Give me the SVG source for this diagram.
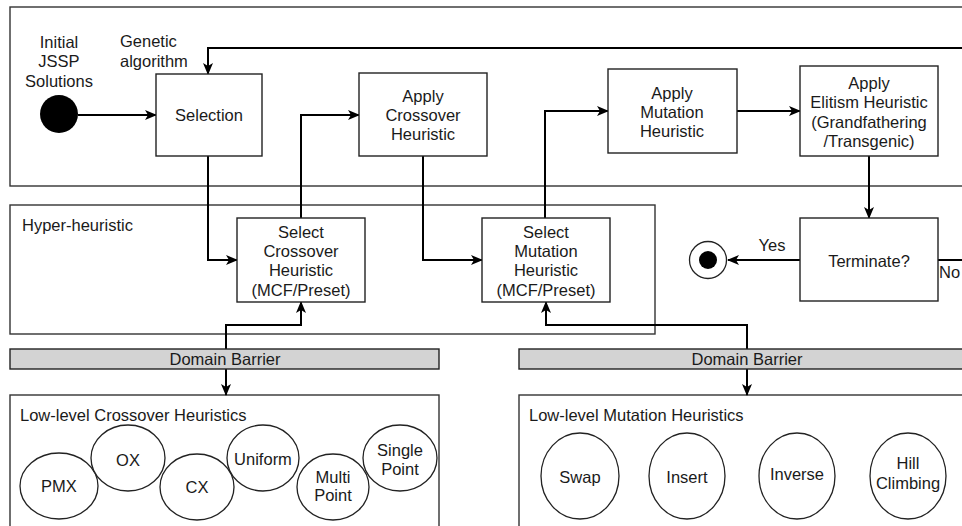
<svg xmlns="http://www.w3.org/2000/svg" width="962" height="526" viewBox="0 0 962 526">
  <style>
    text { font-family: "Liberation Sans", Arial, sans-serif; font-size: 16.5px; fill: #1a1a1a; }
    .c { text-anchor: middle; }
    .frame { fill: #fff; stroke: #333; stroke-width: 1.4; }
    .box { fill: #fff; stroke: #222; stroke-width: 1.4; }
    .barrier { fill: #d3d3d3; stroke: #222; stroke-width: 1.4; }
    .oval { fill: #fff; stroke: #222; stroke-width: 1.3; }
    .wire { fill: none; stroke: #000; stroke-width: 2; }
  </style>
  <defs>
    <marker id="arrow" viewBox="0 0 12 10" refX="11" refY="5" markerWidth="12" markerHeight="10" markerUnits="userSpaceOnUse" orient="auto">
      <path d="M0,0 L12,5 L0,10 L3,5 Z" fill="#000"/>
    </marker>
  </defs>
  <rect width="962" height="526" fill="#fff"/>

  <!-- containers -->
  <g id="ga-frame">
    <rect class="frame" x="10" y="7" width="970" height="179"/>
    <text x="120" y="47">Genetic</text>
    <text x="120" y="67">algorithm</text>
  </g>
  <g id="hh-frame">
    <rect class="frame" x="10" y="205" width="645" height="129"/>
    <text x="22" y="231">Hyper-heuristic</text>
  </g>
  <g id="ll-crossover">
    <rect class="frame" x="10" y="395" width="429" height="150"/>
    <text x="20" y="421">Low-level Crossover Heuristics</text>
  </g>
  <g id="ll-mutation">
    <rect class="frame" x="519" y="395" width="470" height="150"/>
    <text x="529" y="421">Low-level Mutation Heuristics</text>
  </g>

  <!-- connectors -->
  <g id="connectors">
    <path class="wire" d="M78,115 H156" marker-end="url(#arrow)"/>
    <path class="wire" d="M980,260 H938"/>
    <path class="wire" d="M980,48 H208 V74" marker-end="url(#arrow)"/>
    <path class="wire" d="M208,156 V260 H237" marker-end="url(#arrow)"/>
    <path class="wire" d="M301,218 V115 H359" marker-end="url(#arrow)"/>
    <path class="wire" d="M423,156 V260 H482" marker-end="url(#arrow)"/>
    <path class="wire" d="M545,218 V111 H608" marker-end="url(#arrow)"/>
    <path class="wire" d="M737,111 H800" marker-end="url(#arrow)"/>
    <path class="wire" d="M869,156 V218" marker-end="url(#arrow)"/>
    <path class="wire" d="M800,260 H728" marker-end="url(#arrow)"/>
    <path class="wire" d="M226,349 V325 H301 V302" marker-end="url(#arrow)"/>
    <path class="wire" d="M226,369 V395" marker-end="url(#arrow)"/>
    <path class="wire" d="M747,349 V325 H546 V302" marker-end="url(#arrow)"/>
    <path class="wire" d="M747,369 V395" marker-end="url(#arrow)"/>
    <text class="c" x="772" y="251">Yes</text>
    <text x="939" y="278">No</text>
  </g>

  <!-- genetic algorithm steps -->
  <g id="start">
    <circle cx="59" cy="114" r="19" fill="#000"/>
    <text class="c" x="59" y="48">Initial</text>
    <text class="c" x="59" y="67">JSSP</text>
    <text class="c" x="59" y="87">Solutions</text>
  </g>
  <g id="selection">
    <rect class="box" x="156" y="74" width="106" height="82"/>
    <text class="c" x="209" y="121">Selection</text>
  </g>
  <g id="apply-crossover">
    <rect class="box" x="359" y="73" width="128" height="83"/>
    <text class="c" x="423" y="102">Apply</text>
    <text class="c" x="423" y="121">Crossover</text>
    <text class="c" x="423" y="140">Heuristic</text>
  </g>
  <g id="apply-mutation">
    <rect class="box" x="608" y="69" width="129" height="84"/>
    <text class="c" x="672" y="99">Apply</text>
    <text class="c" x="672" y="118">Mutation</text>
    <text class="c" x="672" y="137">Heuristic</text>
  </g>
  <g id="apply-elitism">
    <rect class="box" x="800" y="66" width="138" height="90"/>
    <text class="c" x="869" y="89">Apply</text>
    <text class="c" x="869" y="108">Elitism Heuristic</text>
    <text class="c" x="869" y="128">(Grandfathering</text>
    <text class="c" x="869" y="147">/Transgenic)</text>
  </g>
  <g id="terminate">
    <rect class="box" x="800" y="218" width="138" height="83"/>
    <text class="c" x="869" y="267">Terminate?</text>
  </g>
  <g id="end">
    <circle cx="708" cy="260" r="18.5" fill="#fff" stroke="#222" stroke-width="1.3"/>
    <circle cx="708" cy="260" r="9" fill="#000"/>
  </g>

  <!-- hyper-heuristic selectors -->
  <g id="select-crossover">
    <rect class="box" x="237" y="218" width="128" height="84"/>
    <text class="c" x="301" y="238">Select</text>
    <text class="c" x="301" y="257">Crossover</text>
    <text class="c" x="301" y="276">Heuristic</text>
    <text class="c" x="301" y="296">(MCF/Preset)</text>
  </g>
  <g id="select-mutation">
    <rect class="box" x="482" y="218" width="128" height="84"/>
    <text class="c" x="546" y="238">Select</text>
    <text class="c" x="546" y="257">Mutation</text>
    <text class="c" x="546" y="276">Heuristic</text>
    <text class="c" x="546" y="296">(MCF/Preset)</text>
  </g>

  <!-- domain barriers -->
  <g id="barrier-left">
    <rect class="barrier" x="10" y="349" width="429" height="20"/>
    <text class="c" x="225" y="365">Domain Barrier</text>
  </g>
  <g id="barrier-right">
    <rect class="barrier" x="519" y="349" width="470" height="20"/>
    <text class="c" x="747" y="365">Domain Barrier</text>
  </g>

  <!-- low-level crossover operators -->
  <g id="pmx"><ellipse class="oval" cx="59" cy="486" rx="39" ry="33"/><text class="c" x="59" y="492">PMX</text></g>
  <g id="ox"><ellipse class="oval" cx="128" cy="458" rx="37" ry="33"/><text class="c" x="128" y="466">OX</text></g>
  <g id="cx"><ellipse class="oval" cx="197" cy="487" rx="37" ry="33"/><text class="c" x="197" y="493">CX</text></g>
  <g id="uniform"><ellipse class="oval" cx="263" cy="458" rx="36" ry="33"/><text class="c" x="263" y="465">Uniform</text></g>
  <g id="multi-point"><ellipse class="oval" cx="333" cy="487" rx="36" ry="33"/><text class="c" x="333" y="483">Multi</text><text class="c" x="333" y="501">Point</text></g>
  <g id="single-point"><ellipse class="oval" cx="400" cy="458" rx="37" ry="33"/><text class="c" x="400" y="456">Single</text><text class="c" x="400" y="475">Point</text></g>

  <!-- low-level mutation operators -->
  <g id="swap"><ellipse class="oval" cx="580" cy="476" rx="39" ry="43"/><text class="c" x="580" y="483">Swap</text></g>
  <g id="insert"><ellipse class="oval" cx="687" cy="476" rx="38" ry="43"/><text class="c" x="687" y="483">Insert</text></g>
  <g id="inverse"><ellipse class="oval" cx="797" cy="476" rx="38" ry="43"/><text class="c" x="797" y="480">Inverse</text></g>
  <g id="hill-climbing"><ellipse class="oval" cx="908" cy="476" rx="38" ry="43"/><text class="c" x="908" y="469">Hill</text><text class="c" x="908" y="489">Climbing</text></g>
</svg>
